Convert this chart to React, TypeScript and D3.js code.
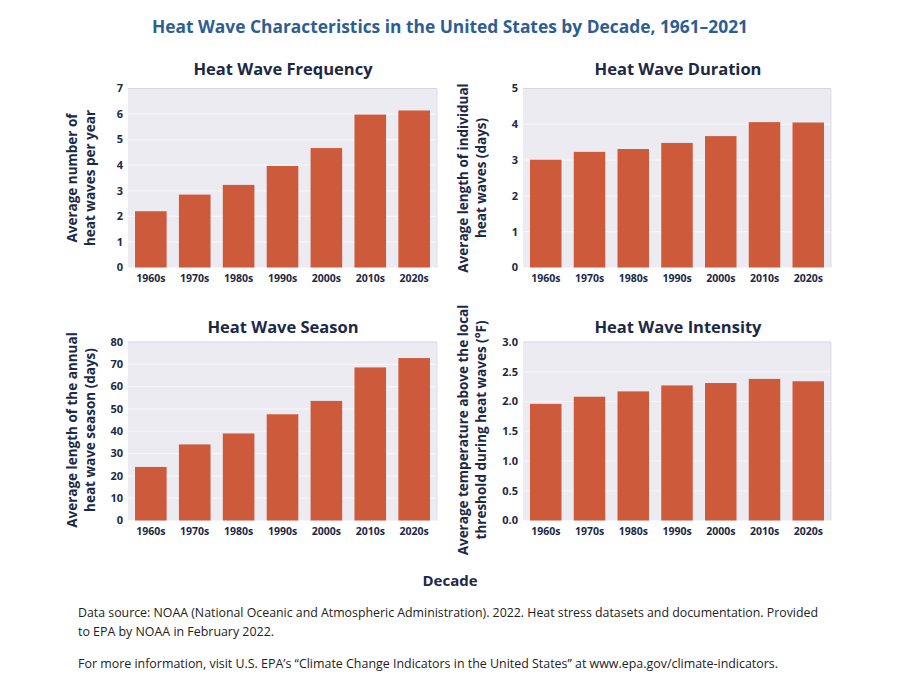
import React from "react";
import * as d3 from "d3";

const decades = ["1960s", "1970s", "1980s", "1990s", "2000s", "2010s", "2020s"];
const frequency = [2.2, 2.85, 3.23, 3.97, 4.67, 5.98, 6.14];
const duration = [3.01, 3.23, 3.31, 3.48, 3.67, 4.06, 4.05];
const season = [24, 34.1, 39, 47.6, 53.6, 68.6, 72.8];
const intensity = [1.96, 2.08, 2.17, 2.27, 2.31, 2.38, 2.34];

const freqTicks = [0, 1, 2, 3, 4, 5, 6, 7];
const durTicks = [0, 1, 2, 3, 4, 5];
const seasonTicks = [0, 10, 20, 30, 40, 50, 60, 70, 80];
const intTicks = [0, 0.5, 1.0, 1.5, 2.0, 2.5, 3.0];

const NAVY = "#1c2946";
const BAR = "#cd5a3a";
const BG = "#ebebf1";
const FONT = "'Open Sans', 'Noto Sans', sans-serif";

type PanelProps = {
  title: string;
  values: number[];
  ticks: number[];
  fmt: (v: number) => string;
  yLabel: [string, string];
  x0: number;
  x1: number;
  y0: number;
  y1: number;
  titleX: number;
  titleY: number;
  labelX: number;
  labelY: number;
};

function Panel(p: PanelProps) {
  const x = d3
    .scaleBand<string>()
    .domain(decades)
    .range([p.x0, p.x1])
    .paddingInner(0.28)
    .paddingOuter(0.16);
  const y = d3
    .scaleLinear()
    .domain([0, p.ticks[p.ticks.length - 1]])
    .range([p.y1, p.y0]);
  return (
    <g>
      <text
        x={p.titleX}
        y={p.titleY}
        textAnchor="middle"
        fontFamily={FONT}
        fontWeight={700}
        fontSize={16.5}
        fill={NAVY}
      >
        {p.title}
      </text>
      <rect x={p.x0} y={p.y0} width={p.x1 - p.x0} height={p.y1 - p.y0} fill={BG} />
      {p.ticks.map((t, i) => (
        <line
          key={"g" + i}
          x1={p.x0}
          x2={p.x1}
          y1={y(t)}
          y2={y(t)}
          stroke={i === p.ticks.length - 1 ? "#d6d6df" : "#f6f6f9"}
          strokeWidth={1.2}
        />
      ))}
      <line x1={p.x1} x2={p.x1} y1={p.y0} y2={p.y1} stroke="#dedee6" strokeWidth={1} />
      {p.values.map((v, i) => (
        <rect
          key={"b" + i}
          x={x(decades[i])}
          y={y(v)}
          width={x.bandwidth()}
          height={y(0) - y(v)}
          fill={BAR}
        />
      ))}
      {p.ticks.map((t, i) => (
        <text
          key={"t" + i}
          x={p.x0 - 5}
          y={y(t)}
          dy="0.35em"
          textAnchor="end"
          fontFamily={FONT}
          fontWeight={700}
          fontSize={11}
          fill={NAVY}
        >
          {p.fmt(t)}
        </text>
      ))}
      {decades.map((d, i) => (
        <text
          key={"x" + i}
          x={(x(d) as number) + x.bandwidth() / 2}
          y={p.y1 + 14}
          textAnchor="middle"
          fontFamily={FONT}
          fontWeight={700}
          fontSize={10.5}
          fill={NAVY}
        >
          {d}
        </text>
      ))}
      <g transform={`translate(${p.labelX},${p.labelY}) rotate(-90)`}>
        <text
          x={0}
          y={0}
          textAnchor="middle"
          fontFamily={FONT}
          fontWeight={700}
          fontSize={13.5}
          fill={NAVY}
        >
          {p.yLabel[0]}
        </text>
        <text
          x={0}
          y={17.5}
          textAnchor="middle"
          fontFamily={FONT}
          fontWeight={700}
          fontSize={13.5}
          fill={NAVY}
        >
          {p.yLabel[1]}
        </text>
      </g>
    </g>
  );
}

export default function App() {
  const left = { x0: 128, x1: 437 };
  const right = { x0: 523, x1: 831 };
  const top = { y0: 88.5, y1: 267.5 };
  const bot = { y0: 342, y1: 520.5 };
  return (
    <div style={{ position: "absolute", left: 0, top: 0 }}>
      <svg width={900} height={699} style={{ display: "block", background: "#ffffff" }}>
        <text
          x={450}
          y={33}
          textAnchor="middle"
          fontFamily={FONT}
          fontWeight={700}
          fontSize={18}
          fill="#2d5e93"
          textLength={596}
          lengthAdjust="spacingAndGlyphs"
        >
          Heat Wave Characteristics in the United States by Decade, 1961–2021
        </text>
        <Panel
          title="Heat Wave Frequency"
          values={frequency}
          ticks={freqTicks}
          fmt={(v) => String(v)}
          yLabel={["Average number of", "heat waves per year"]}
          {...left}
          {...top}
          titleX={283}
          titleY={75}
          labelX={77}
          labelY={178}
        />
        <Panel
          title="Heat Wave Duration"
          values={duration}
          ticks={durTicks}
          fmt={(v) => String(v)}
          yLabel={["Average length of individual", "heat waves (days)"]}
          {...right}
          {...top}
          titleX={678}
          titleY={75}
          labelX={468}
          labelY={178}
        />
        <Panel
          title="Heat Wave Season"
          values={season}
          ticks={seasonTicks}
          fmt={(v) => String(v)}
          yLabel={["Average length of the annual", "heat wave season (days)"]}
          {...left}
          {...bot}
          titleX={283}
          titleY={333}
          labelX={77}
          labelY={430}
        />
        <Panel
          title="Heat Wave Intensity"
          values={intensity}
          ticks={intTicks}
          fmt={(v) => v.toFixed(1)}
          yLabel={["Average temperature above the local", "threshold during heat waves (°F)"]}
          {...right}
          {...bot}
          titleX={678}
          titleY={333}
          labelX={468}
          labelY={430}
        />
        <text
          x={450}
          y={586}
          textAnchor="middle"
          fontFamily={FONT}
          fontWeight={700}
          fontSize={15}
          fill={NAVY}
        >
          Decade
        </text>
        <text x={78} y={617} fontFamily={FONT} fontSize={13} fill="#222" textLength={740} lengthAdjust="spacingAndGlyphs">
          Data source: NOAA (National Oceanic and Atmospheric Administration). 2022. Heat stress datasets and documentation. Provided
        </text>
        <text x={78} y={636} fontFamily={FONT} fontSize={13} fill="#222" textLength={196} lengthAdjust="spacingAndGlyphs">
          to EPA by NOAA in February 2022.
        </text>
        <text x={78} y={668} fontFamily={FONT} fontSize={13} fill="#222" textLength={700} lengthAdjust="spacingAndGlyphs">
          For more information, visit U.S. EPA’s “Climate Change Indicators in the United States” at www.epa.gov/climate-indicators.
        </text>
      </svg>
    </div>
  );
}
